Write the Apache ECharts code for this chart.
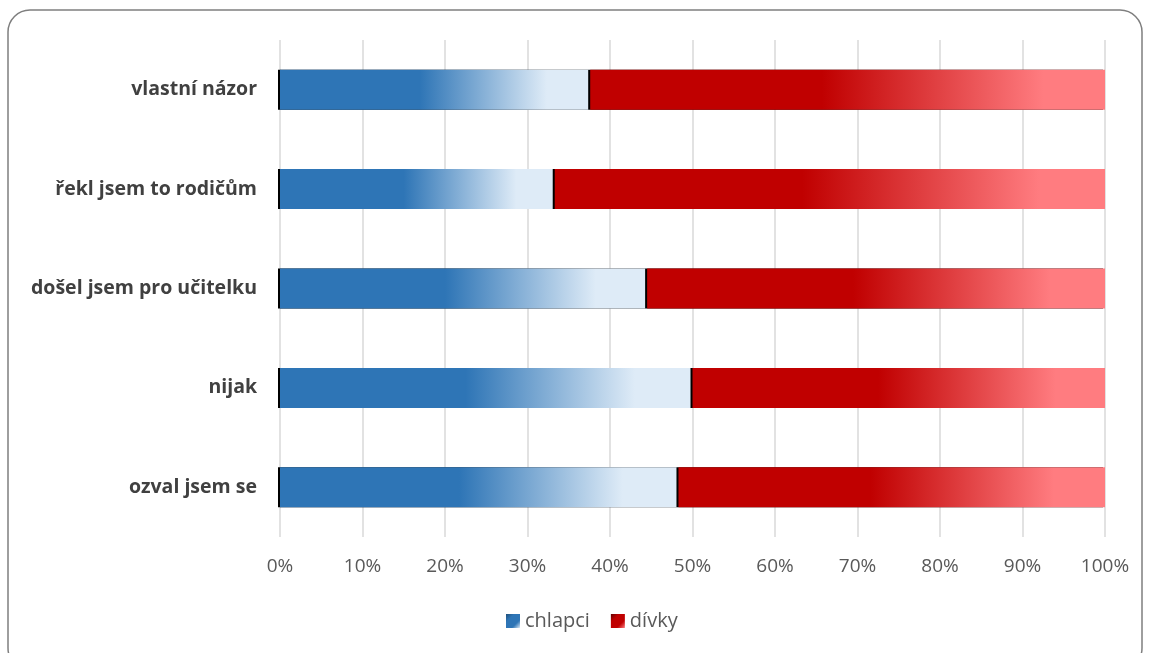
<!DOCTYPE html>
<html><head><meta charset="utf-8">
<script src="https://cdn.jsdelivr.net/npm/echarts@6/dist/echarts.min.js"></script>
<style>html,body{margin:0;padding:0;background:#fff}#c{width:1149px;height:653px}</style>
</head><body><div id="c"></div>
<script>
const categories = ['vlastní názor','řekl jsem to rodičům','došel jsem pro učitelku','nijak','ozval jsem se'];
const chlapci = [37.6, 33.3, 44.5, 50.0, 48.3];
const divky = [62.4, 66.7, 55.5, 50.0, 51.7];
const seriesNames = ['chlapci','dívky'];

const blueGrad = new echarts.graphic.LinearGradient(0,0,1,0,[
  {offset:0,color:'#2E75B6'},{offset:0.45,color:'#2E75B6'},{offset:0.86,color:'#DEEBF7'},{offset:1,color:'#DEEBF7'}]);
const redGrad = new echarts.graphic.LinearGradient(0,0,1,0,[
  {offset:0,color:'#C00000'},{offset:0.45,color:'#C00000'},{offset:0.88,color:'#FF7C80'},{offset:1,color:'#FF7C80'}]);
const blueIcon = new echarts.graphic.LinearGradient(0,0,1,1,[
  {offset:0,color:'#1F4E79'},{offset:0.3,color:'#2E75B6'},{offset:0.7,color:'#2E75B6'},{offset:1,color:'#DEEBF7'}]);
const redIcon = new echarts.graphic.LinearGradient(0,0,1,1,[
  {offset:0,color:'#600000'},{offset:0.3,color:'#C00000'},{offset:0.7,color:'#C00000'},{offset:1,color:'#FF7C80'}]);

const chart = echarts.init(document.getElementById('c'));
chart.setOption({
  animation:false,
  graphic:[{type:'rect',shape:{x:8,y:10,width:1134,height:660,r:22},style:{fill:'none',stroke:'#7f7f7f',lineWidth:1.5},z:-1}],
  grid:{left:280,right:44,top:40,bottom:116,containLabel:false},
  xAxis:{type:'value',min:0,max:100,interval:10,
    axisLabel:{formatter:'{value}%',color:'#595959',fontSize:19,fontFamily:'Open Sans',margin:20},
    axisLine:{show:false},axisTick:{show:false},
    splitLine:{lineStyle:{color:'#d9d9d9',width:1.5}}},
  yAxis:{type:'category',data:categories,inverse:true,
    axisLine:{show:false},axisTick:{show:false},
    axisLabel:{color:'#404040',fontSize:19.5,fontWeight:'bold',fontFamily:'Open Sans',margin:23}},
  legend:{top:606,left:501,itemWidth:14,itemHeight:14,itemGap:21,icon:'rect',
    textStyle:{color:'#595959',fontSize:20,fontFamily:'Open Sans'},
    data:[{name:seriesNames[0],itemStyle:{color:blueIcon}},{name:seriesNames[1],itemStyle:{color:redIcon}}]},
  series:[
    {name:seriesNames[0],type:'bar',stack:'a',data:chlapci,barWidth:40,
     itemStyle:{color:blueGrad,shadowColor:'#000',shadowOffsetX:-2,shadowBlur:0}},
    {name:seriesNames[1],type:'bar',stack:'a',data:divky,barWidth:40,
     itemStyle:{color:redGrad,shadowColor:'#000',shadowOffsetX:-2,shadowBlur:0}}
  ]
});
</script></body></html>
